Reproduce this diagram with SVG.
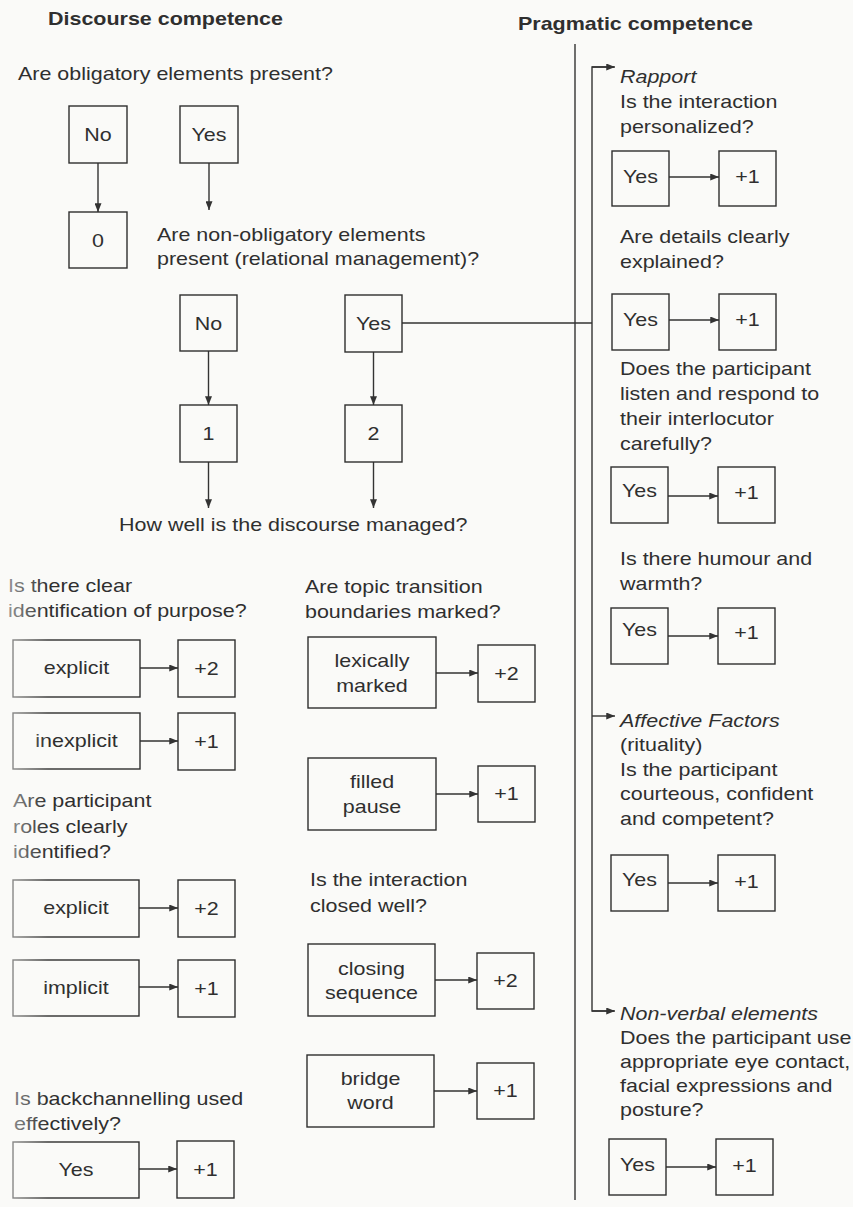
<svg xmlns="http://www.w3.org/2000/svg" width="853" height="1207" viewBox="0 0 853 1207">
  <style>
    .bg { fill: #fafaf8; }
    .box { fill: none; stroke: #2e2e2e; stroke-width: 1.4; }
    .t { font-family: "Liberation Sans", Arial, Helvetica, sans-serif; font-size: 19px; fill: #2f2f2f; }
    .h { font-weight: bold; }
    .i { font-style: italic; }
    .c { text-anchor: middle; }
    .ln { fill: none; stroke: #333333; stroke-width: 1.4; }
    .arr { marker-end: url(#ah); }
  </style>
  <defs>
    <marker id="ah" viewBox="0 0 10 8" refX="10" refY="4" markerWidth="9" markerHeight="7" markerUnits="userSpaceOnUse" orient="auto">
      <path d="M0,0 L10,4 L0,8 z" fill="#333333"/>
    </marker>
    <!-- faded left margin of the printed page -->
    <linearGradient id="fade" x1="0" y1="0" x2="1" y2="0">
      <stop offset="0" stop-color="#fafaf8" stop-opacity="0.6"/>
      <stop offset="1" stop-color="#fafaf8" stop-opacity="0"/>
    </linearGradient>
  </defs>

  <rect class="bg" x="0" y="0" width="853" height="1207"/>

  <!-- connectors -->
  <g id="connectors">
    <line class="ln arr" x1="98" y1="163" x2="98" y2="212"/>
    <line class="ln arr" x1="209" y1="163" x2="209" y2="210"/>
    <line class="ln arr" x1="208.5" y1="351" x2="208.5" y2="405"/>
    <line class="ln arr" x1="373.5" y1="352" x2="373.5" y2="405"/>
    <line class="ln arr" x1="208.5" y1="462" x2="208.5" y2="508"/>
    <line class="ln arr" x1="373.5" y1="462" x2="373.5" y2="508"/>
    <line class="ln" x1="402" y1="323" x2="592" y2="323"/>

    <line class="ln arr" x1="140" y1="668" x2="178" y2="668"/>
    <line class="ln arr" x1="140" y1="741" x2="178" y2="741"/>
    <line class="ln arr" x1="139" y1="908" x2="178" y2="908"/>
    <line class="ln arr" x1="139" y1="987" x2="178" y2="987"/>
    <line class="ln arr" x1="139" y1="1169" x2="177" y2="1169"/>

    <line class="ln arr" x1="436" y1="673" x2="478" y2="673"/>
    <line class="ln arr" x1="436" y1="794" x2="478" y2="794"/>
    <line class="ln arr" x1="435" y1="980" x2="477" y2="980"/>
    <line class="ln arr" x1="434" y1="1091" x2="477" y2="1091"/>

    <line class="ln" x1="575" y1="44" x2="575" y2="1200"/>
    <polyline class="ln" points="614,67 592,67 592,1011 614,1011"/>
    <line class="ln arr" x1="592" y1="67" x2="615" y2="67"/>
    <line class="ln arr" x1="592" y1="716" x2="615" y2="716"/>
    <line class="ln arr" x1="592" y1="1011" x2="615" y2="1011"/>

    <line class="ln arr" x1="669" y1="177" x2="719" y2="177"/>
    <line class="ln arr" x1="669" y1="320" x2="719" y2="320"/>
    <line class="ln arr" x1="668" y1="496" x2="718" y2="496"/>
    <line class="ln arr" x1="668" y1="636" x2="718" y2="636"/>
    <line class="ln arr" x1="668" y1="883" x2="718" y2="883"/>
    <line class="ln arr" x1="666" y1="1167" x2="716" y2="1167"/>
  </g>

  <!-- headings -->
  <g id="title-discourse"><text class="t h" transform="matrix(1.13 0 0 1 48 25)">Discourse competence</text></g>
  <g id="title-pragmatic"><text class="t h" transform="matrix(1.13 0 0 1 518 30)">Pragmatic competence</text></g>

  <!-- discourse: obligatory / non-obligatory elements -->
  <g id="q-obligatory"><text class="t" transform="matrix(1.13 0 0 1 18 80)">Are obligatory elements present?</text></g>
  <g id="n-oblig-no"><rect class="box" x="69" y="106" width="58" height="57"/><text class="t c" transform="matrix(1.13 0 0 1 98 141)">No</text></g>
  <g id="n-oblig-yes"><rect class="box" x="180" y="106" width="58" height="57"/><text class="t c" transform="matrix(1.13 0 0 1 209 141)">Yes</text></g>
  <g id="n-score-0"><rect class="box" x="69" y="212" width="58" height="56"/><text class="t c" transform="matrix(1.13 0 0 1 98 247)">0</text></g>
  <g id="q-nonoblig"><text class="t" transform="matrix(1.13 0 0 1 157 241)">Are non-obligatory elements<tspan x="0" y="24">present (relational management)?</tspan></text></g>
  <g id="n-rel-no"><rect class="box" x="180" y="295" width="57" height="56"/><text class="t c" transform="matrix(1.13 0 0 1 208.5 330)">No</text></g>
  <g id="n-rel-yes"><rect class="box" x="345" y="295" width="57" height="57"/><text class="t c" transform="matrix(1.13 0 0 1 373.5 330)">Yes</text></g>
  <g id="n-score-1"><rect class="box" x="180" y="405" width="57" height="57"/><text class="t c" transform="matrix(1.13 0 0 1 208.5 440)">1</text></g>
  <g id="n-score-2"><rect class="box" x="345" y="405" width="57" height="57"/><text class="t c" transform="matrix(1.13 0 0 1 373.5 440)">2</text></g>
  <g id="q-managed"><text class="t" transform="matrix(1.13 0 0 1 119 531)">How well is the discourse managed?</text></g>

  <!-- discourse: purpose -->
  <g id="q-purpose"><text class="t" transform="matrix(1.13 0 0 1 8 592)">Is there clear<tspan x="0" y="25">identification of purpose?</tspan></text></g>
  <g id="n-purpose-explicit"><rect class="box" x="13" y="640" width="127" height="57"/><text class="t c" transform="matrix(1.13 0 0 1 76.5 674)">explicit</text></g>
  <g id="n-purpose-explicit-score"><rect class="box" x="178" y="640" width="57" height="57"/><text class="t c" transform="matrix(1.13 0 0 1 206.5 675)">+2</text></g>
  <g id="n-purpose-inexplicit"><rect class="box" x="13" y="713" width="127" height="56"/><text class="t c" transform="matrix(1.13 0 0 1 76.5 747)">inexplicit</text></g>
  <g id="n-purpose-inexplicit-score"><rect class="box" x="178" y="713" width="57" height="57"/><text class="t c" transform="matrix(1.13 0 0 1 206.5 748)">+1</text></g>

  <!-- discourse: participant roles -->
  <g id="q-roles"><text class="t" transform="matrix(1.13 0 0 1 13 807)">Are participant<tspan x="0" y="26">roles clearly</tspan><tspan x="0" y="51">identified?</tspan></text></g>
  <g id="n-roles-explicit"><rect class="box" x="13" y="880" width="126" height="57"/><text class="t c" transform="matrix(1.13 0 0 1 76 914)">explicit</text></g>
  <g id="n-roles-explicit-score"><rect class="box" x="178" y="880" width="57" height="57"/><text class="t c" transform="matrix(1.13 0 0 1 206.5 915)">+2</text></g>
  <g id="n-roles-implicit"><rect class="box" x="13" y="960" width="126" height="56"/><text class="t c" transform="matrix(1.13 0 0 1 76 994)">implicit</text></g>
  <g id="n-roles-implicit-score"><rect class="box" x="178" y="960" width="57" height="57"/><text class="t c" transform="matrix(1.13 0 0 1 206.5 995)">+1</text></g>

  <!-- discourse: backchannelling -->
  <g id="q-backchannel"><text class="t" transform="matrix(1.13 0 0 1 14 1105)">Is backchannelling used<tspan x="0" y="25">effectively?</tspan></text></g>
  <g id="n-backchannel-yes"><rect class="box" x="13" y="1142" width="126" height="56"/><text class="t c" transform="matrix(1.13 0 0 1 76 1176)">Yes</text></g>
  <g id="n-backchannel-score"><rect class="box" x="177" y="1141" width="57" height="57"/><text class="t c" transform="matrix(1.13 0 0 1 205.5 1176)">+1</text></g>

  <!-- discourse: topic transitions -->
  <g id="q-topic"><text class="t" transform="matrix(1.13 0 0 1 305 593)">Are topic transition<tspan x="0" y="25">boundaries marked?</tspan></text></g>
  <g id="n-topic-lexical"><rect class="box" x="308" y="637" width="128" height="71"/><text class="t c" transform="matrix(1.13 0 0 1 372 667)">lexically<tspan x="0" y="25">marked</tspan></text></g>
  <g id="n-topic-lexical-score"><rect class="box" x="478" y="645" width="57" height="57"/><text class="t c" transform="matrix(1.13 0 0 1 506.5 680)">+2</text></g>
  <g id="n-topic-filled"><rect class="box" x="308" y="758" width="128" height="72"/><text class="t c" transform="matrix(1.13 0 0 1 372 788)">filled<tspan x="0" y="25">pause</tspan></text></g>
  <g id="n-topic-filled-score"><rect class="box" x="478" y="766" width="57" height="56"/><text class="t c" transform="matrix(1.13 0 0 1 506.5 800)">+1</text></g>

  <!-- discourse: closing -->
  <g id="q-closed"><text class="t" transform="matrix(1.13 0 0 1 310 886)">Is the interaction<tspan x="0" y="26">closed well?</tspan></text></g>
  <g id="n-closing-sequence"><rect class="box" x="308" y="944" width="127" height="72"/><text class="t c" transform="matrix(1.13 0 0 1 371.5 975)">closing<tspan x="0" y="24">sequence</tspan></text></g>
  <g id="n-closing-sequence-score"><rect class="box" x="477" y="953" width="57" height="56"/><text class="t c" transform="matrix(1.13 0 0 1 505.5 987)">+2</text></g>
  <g id="n-closing-bridge"><rect class="box" x="307" y="1055" width="127" height="72"/><text class="t c" transform="matrix(1.13 0 0 1 370.5 1085)">bridge<tspan x="0" y="24">word</tspan></text></g>
  <g id="n-closing-bridge-score"><rect class="box" x="477" y="1063" width="57" height="56"/><text class="t c" transform="matrix(1.13 0 0 1 505.5 1097)">+1</text></g>

  <!-- pragmatic: rapport -->
  <g id="q-rapport"><text class="t" transform="matrix(1.13 0 0 1 620 83)"><tspan class="i">Rapport</tspan><tspan x="0" y="25">Is the interaction</tspan><tspan x="0" y="50">personalized?</tspan></text></g>
  <g id="n-rapport-1-yes"><rect class="box" x="612" y="151" width="57" height="55"/><text class="t c" transform="matrix(1.13 0 0 1 640.5 183)">Yes</text></g>
  <g id="n-rapport-1-score"><rect class="box" x="719" y="151" width="57" height="55"/><text class="t c" transform="matrix(1.13 0 0 1 747.5 183)">+1</text></g>
  <g id="q-details"><text class="t" transform="matrix(1.13 0 0 1 620 243)">Are details clearly<tspan x="0" y="25">explained?</tspan></text></g>
  <g id="n-rapport-2-yes"><rect class="box" x="612" y="294" width="57" height="56"/><text class="t c" transform="matrix(1.13 0 0 1 640.5 326)">Yes</text></g>
  <g id="n-rapport-2-score"><rect class="box" x="719" y="294" width="57" height="56"/><text class="t c" transform="matrix(1.13 0 0 1 747.5 326)">+1</text></g>
  <g id="q-listen"><text class="t" transform="matrix(1.13 0 0 1 620 375)">Does the participant<tspan x="0" y="25">listen and respond to</tspan><tspan x="0" y="50">their interlocutor</tspan><tspan x="0" y="75">carefully?</tspan></text></g>
  <g id="n-rapport-3-yes"><rect class="box" x="611" y="467" width="57" height="56"/><text class="t c" transform="matrix(1.13 0 0 1 639.5 497)">Yes</text></g>
  <g id="n-rapport-3-score"><rect class="box" x="718" y="467" width="57" height="56"/><text class="t c" transform="matrix(1.13 0 0 1 746.5 499)">+1</text></g>
  <g id="q-humour"><text class="t" transform="matrix(1.13 0 0 1 620 565)">Is there humour and<tspan x="0" y="25">warmth?</tspan></text></g>
  <g id="n-rapport-4-yes"><rect class="box" x="611" y="608" width="57" height="56"/><text class="t c" transform="matrix(1.13 0 0 1 639.5 636)">Yes</text></g>
  <g id="n-rapport-4-score"><rect class="box" x="718" y="608" width="57" height="56"/><text class="t c" transform="matrix(1.13 0 0 1 746.5 639)">+1</text></g>

  <!-- pragmatic: affective factors -->
  <g id="q-affective"><text class="t" transform="matrix(1.13 0 0 1 620 727)"><tspan class="i">Affective Factors</tspan><tspan x="0" y="24">(rituality)</tspan><tspan x="0" y="49">Is the participant</tspan><tspan x="0" y="73">courteous, confident</tspan><tspan x="0" y="98">and competent?</tspan></text></g>
  <g id="n-affective-yes"><rect class="box" x="611" y="855" width="57" height="56"/><text class="t c" transform="matrix(1.13 0 0 1 639.5 886)">Yes</text></g>
  <g id="n-affective-score"><rect class="box" x="718" y="855" width="57" height="56"/><text class="t c" transform="matrix(1.13 0 0 1 746.5 888)">+1</text></g>

  <!-- pragmatic: non-verbal elements -->
  <g id="q-nonverbal"><text class="t" transform="matrix(1.13 0 0 1 620 1020)"><tspan class="i">Non-verbal elements</tspan><tspan x="0" y="24">Does the participant use</tspan><tspan x="0" y="48">appropriate eye contact,</tspan><tspan x="0" y="72">facial expressions and</tspan><tspan x="0" y="96">posture?</tspan></text></g>
  <g id="n-nonverbal-yes"><rect class="box" x="609" y="1139" width="57" height="56"/><text class="t c" transform="matrix(1.13 0 0 1 637.5 1171)">Yes</text></g>
  <g id="n-nonverbal-score"><rect class="box" x="716" y="1139" width="57" height="56"/><text class="t c" transform="matrix(1.13 0 0 1 744.5 1172)">+1</text></g>

  <!-- worn left margin -->
  <rect x="0" y="570" width="48" height="637" fill="url(#fade)"/>
</svg>
